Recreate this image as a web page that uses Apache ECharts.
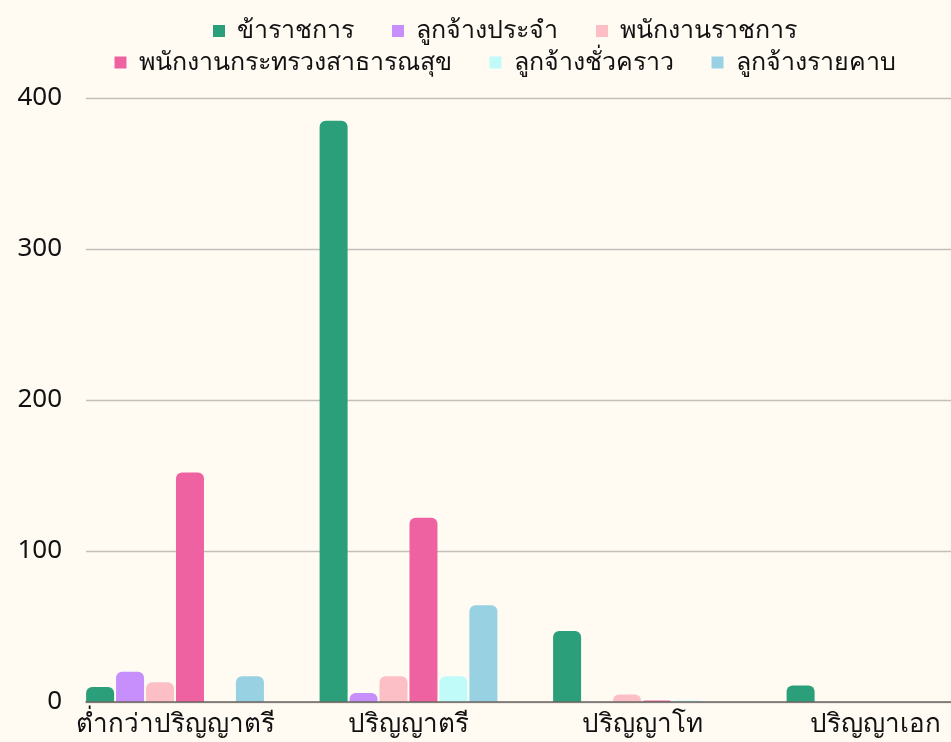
<!DOCTYPE html>
<html lang="th">

<head>
    <meta charset="UTF-8">
    <meta name="viewport" content="width=device-width, initial-scale=1.0">
    <title>ระดับการศึกษา</title>
    <style>
        html,
        body {
            margin: 0;
            padding: 0;
            overflow: hidden;
            background: #fffbf3;
        }

        .box {
            /* the original chart was a bit wider than the window and is cut off at the right */
            width: 1010px;
            height: 742px;
        }
    </style>
</head>

<body>
    <div class="box"></div>

    <script src="https://cdn.jsdelivr.net/npm/echarts@6/dist/echarts.min.js"></script>
    <script>
        let categories = ["ต่ำกว่าปริญญาตรี", "ปริญญาตรี", "ปริญญาโท", "ปริญญาเอก"]
        let yTicks = [0, 100, 200, 300, 400]

        let seriesNames = ["ข้าราชการ", "ลูกจ้างประจำ", "พนักงานราชการ",
            "พนักงานกระทรวงสาธารณสุข", "ลูกจ้างชั่วคราว", "ลูกจ้างรายคาบ"]
        let civilServant = [10, 385, 47, 11]
        let permanentEmp = [20, 6, 0, 0]
        let govEmployee = [13, 17, 5, 0]
        let mophEmployee = [152, 122, 1, 0]
        let tempEmployee = [0, 17, 1, 0]
        let hourlyEmployee = [17, 64, 0, 0]

        let seriesData = [civilServant, permanentEmp, govEmployee, mophEmployee, tempEmployee, hourlyEmployee]
        let colors = ["#2b9f79", "#c78ffb", "#fdbfc6", "#ef62a2", "#c0fbf9", "#98d1e2"]

        let font = "Noto Sans"

        let myChart = echarts.init(document.querySelector(".box"));

        let legendStyle = {
            left: "center",
            icon: "rect",
            itemWidth: 12,
            itemHeight: 12,
            itemGap: 38,
            textStyle: {
                fontFamily: font,
                fontSize: 25,
                lineHeight: 28,
                color: "#111",
                padding: [0, 0, 0, 7]
            }
        }

        option = {
            backgroundColor: "#fffbf3",
            color: colors,
            animation: false,
            legend: [
                Object.assign({ top: 12, data: seriesNames.slice(0, 3) }, legendStyle),
                Object.assign({ top: 43.5, data: seriesNames.slice(3) }, legendStyle)
            ],
            grid: [
                // grid 0: gridlines, y labels, base line
                { left: 86, right: 0, top: 98, bottom: 40 },
                // grid 1: the bars, bands shifted so each group starts at the band's left
                { left: 58.25, right: 17.75, top: 98, bottom: 40 }
            ],
            xAxis: [{
                gridIndex: 0,
                type: "category",
                data: categories,
                axisTick: { show: false },
                axisLabel: { show: false },
                axisLine: { lineStyle: { color: "#6b6560", width: 1.5 } },
                z: 5
            }, {
                gridIndex: 1,
                type: "category",
                data: categories,
                axisTick: { show: false },
                axisLine: { show: false },
                axisLabel: {
                    interval: 0,
                    fontFamily: font,
                    fontSize: 26,
                    color: "#111",
                    margin: 10
                }
            }],
            yAxis: [{
                gridIndex: 0,
                type: "value",
                min: yTicks[0],
                max: yTicks[yTicks.length - 1],
                interval: 100,
                axisLabel: {
                    fontFamily: font,
                    fontSize: 26,
                    color: "#111",
                    margin: 24
                },
                splitLine: { lineStyle: { color: "#c2bfba", width: 1.3 } }
            }, {
                gridIndex: 1,
                type: "value",
                min: yTicks[0],
                max: yTicks[yTicks.length - 1],
                show: false,
                splitLine: { show: false }
            }],
            series: seriesNames.map(function (name, i) {
                return {
                    name: name,
                    type: "bar",
                    xAxisIndex: 1,
                    yAxisIndex: 1,
                    barWidth: 28,
                    barGap: "7%",
                    data: seriesData[i],
                    itemStyle: {
                        color: colors[i],
                        borderRadius: [6, 6, 0, 0]
                    }
                }
            })
        }
        myChart.setOption(option);
    </script>
</body>

</html>
